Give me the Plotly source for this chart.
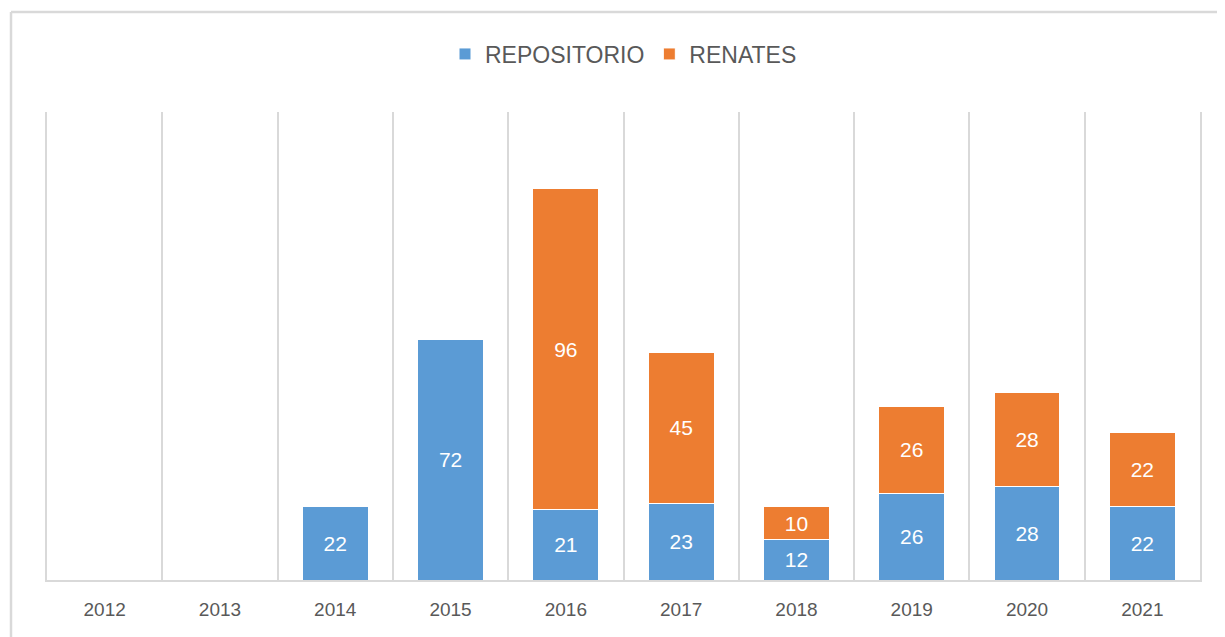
import plotly.graph_objects as go

years = ["2012", "2013", "2014", "2015", "2016", "2017", "2018", "2019", "2020", "2021"]
repositorio = [None, None, 22, 72, 21, 23, 12, 26, 28, 22]
renates = [None, None, None, None, 96, 45, 10, 26, 28, 22]

BLUE = "#5B9BD5"
ORANGE = "#ED7D31"
GRID = "#d9d9d9"
TXT = "#595959"
FONT = "Liberation Sans"

# page body has an 8px margin; positions below are in screen pixels
OFF = 8
W, H = 1225, 637
ML, MR, MT, MB = 47 - OFF, 25 + OFF, 112 - OFF, 57 + OFF
PW, PH = W - ML - MR, H - MT - MB

def px_x(p):
    return (p - OFF - ML) / PW

def px_y(p):
    return (H - MB - (p - OFF)) / PH

fig = go.Figure()
for name, vals, col in [("REPOSITORIO", repositorio, BLUE), ("RENATES", renates, ORANGE)]:
    fig.add_trace(go.Bar(
        name=name, x=years, y=vals,
        marker=dict(color=col, line=dict(color="white", width=1)),
        text=[str(v) if v is not None else "" for v in vals],
        textposition="inside", insidetextanchor="middle", textangle=0,
        constraintext="none",
        textfont=dict(color="white", size=21, family=FONT),
        hoverinfo="x+y+name",
    ))

fig.update_layout(
    barmode="stack", bargap=0.43,
    width=W, height=H,
    margin=dict(l=ML, r=MR, t=MT, b=MB),
    paper_bgcolor="white", plot_bgcolor="white",
    font=dict(family=FONT, color=TXT),
    legend=dict(orientation="h", x=0.5, xanchor="center", y=px_y(54), yanchor="middle",
                font=dict(size=23, color=TXT, family=FONT), traceorder="normal"),
    xaxis=dict(type="category", tickson="boundaries", showgrid=True, gridcolor=GRID, gridwidth=2,
               showline=True, linecolor=GRID, linewidth=2, ticks="",
               tickfont=dict(size=19, color=TXT, family=FONT), ticklabelstandoff=11,
               range=[-0.5, 9.5], fixedrange=True),
    yaxis=dict(range=[0, 140], showgrid=False, showticklabels=False, zeroline=False,
               showline=True, mirror=True, linecolor=GRID, linewidth=2, ticks="",
               fixedrange=True),
    shapes=[
        dict(type="line", xref="paper", yref="paper", x0=px_x(11), x1=px_x(W + 20),
             y0=px_y(12), y1=px_y(12), line=dict(color=GRID, width=2.5)),
        dict(type="line", xref="paper", yref="paper", x0=px_x(11), x1=px_x(11),
             y0=px_y(12), y1=px_y(H + 20), line=dict(color=GRID, width=2.5)),
    ],
)

fig.write_html("out.html")
